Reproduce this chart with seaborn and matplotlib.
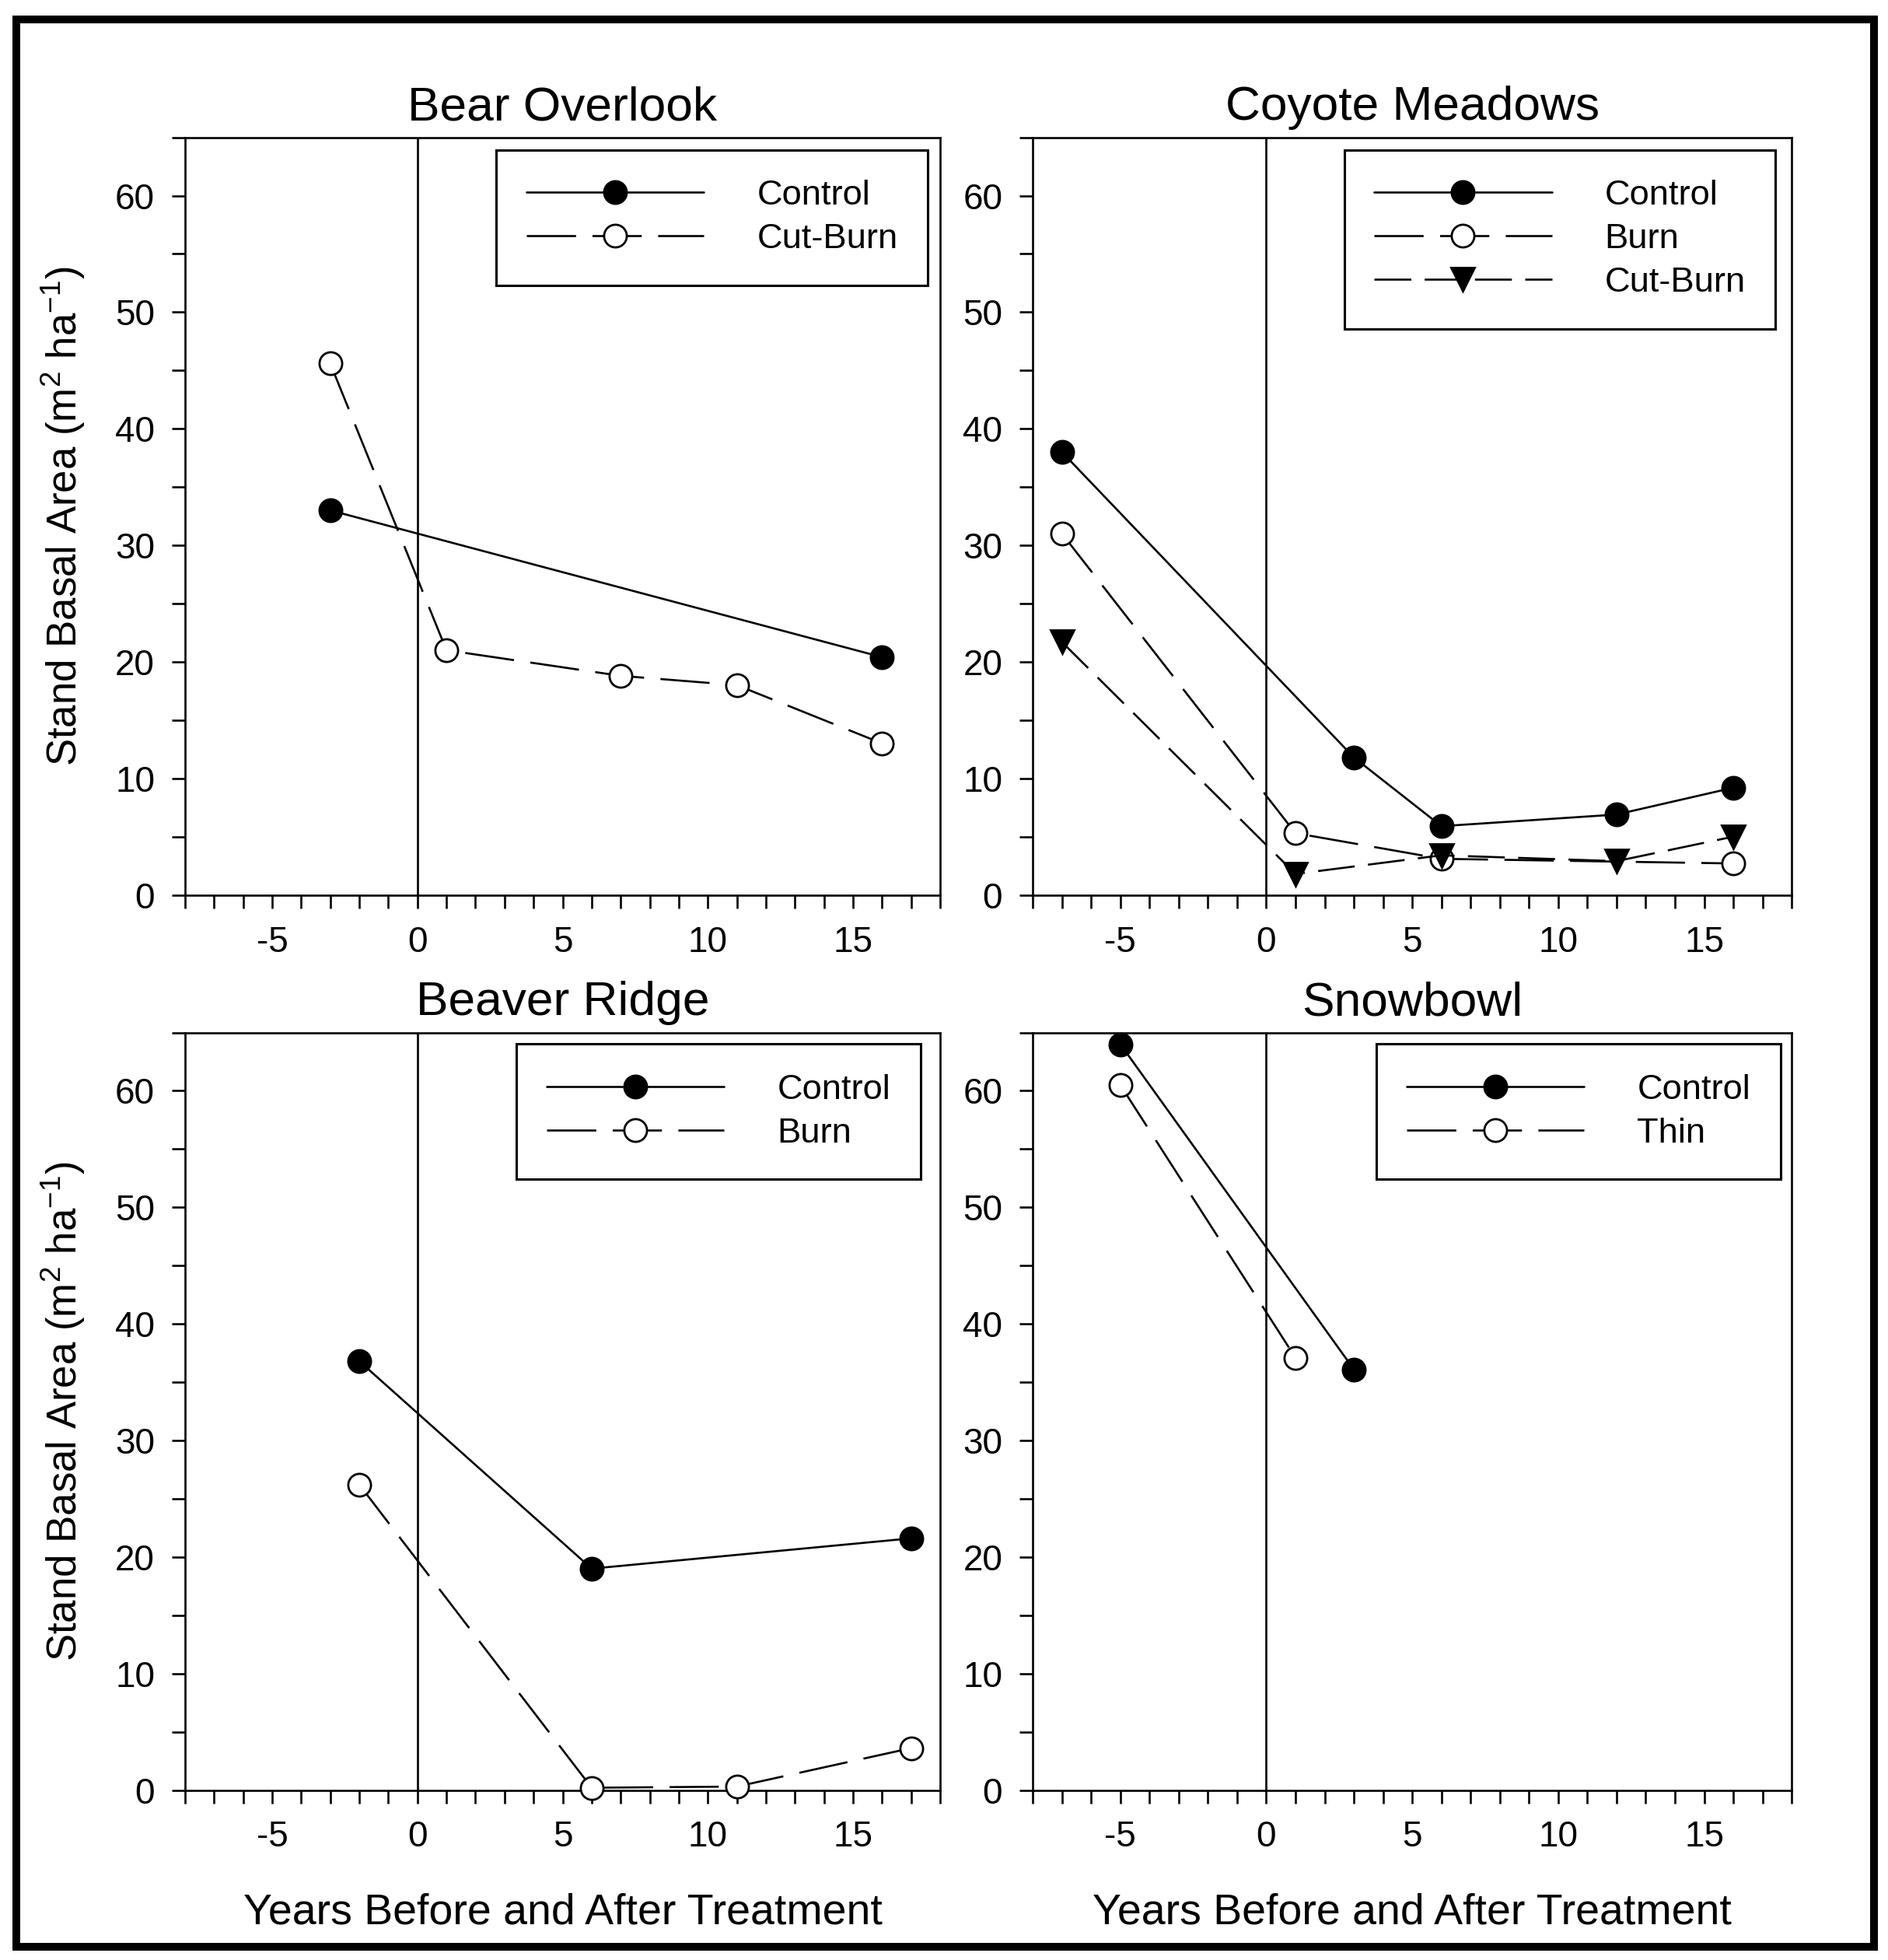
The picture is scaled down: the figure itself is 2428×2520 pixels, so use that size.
import matplotlib.pyplot as plt
import seaborn as sns
from matplotlib.patches import Rectangle
from matplotlib.ticker import MultipleLocator

sns.set_style('ticks')
plt.rcParams['font.family'] = ['Liberation Sans', 'DejaVu Sans']
plt.rcParams['mathtext.fontset'] = 'custom'
plt.rcParams['mathtext.rm'] = 'Liberation Sans'
plt.rcParams['mathtext.default'] = 'regular'
plt.rcParams['axes.unicode_minus'] = False
plt.rcParams['text.color'] = 'black'
plt.rcParams['axes.labelcolor'] = 'black'
plt.rcParams['xtick.color'] = 'black'
plt.rcParams['ytick.color'] = 'black'

# Bear Overlook
bear_control_x = [-3, 16]
bear_control_y = [33.0, 20.4]
bear_cutburn_x = [-3, 1, 7, 11, 16]
bear_cutburn_y = [45.6, 21.0, 18.8, 18.0, 13.0]

# Coyote Meadows
coyote_control_x = [-7, 3, 6, 12, 16]
coyote_control_y = [38.0, 11.8, 5.9, 6.9, 9.2]
coyote_burn_x = [-7, 1, 6, 16]
coyote_burn_y = [31.0, 5.3, 3.1, 2.7]
coyote_cutburn_x = [-7, 1, 6, 12, 16]
coyote_cutburn_y = [21.7, 1.8, 3.4, 2.9, 5.0]

# Beaver Ridge
beaver_control_x = [-2, 6, 17]
beaver_control_y = [36.8, 19.0, 21.6]
beaver_burn_x = [-2, 6, 11, 17]
beaver_burn_y = [26.2, 0.2, 0.3, 3.6]

# Snowbowl
snow_control_x = [-5, 3]
snow_control_y = [64.0, 36.1]
snow_thin_x = [-5, 1]
snow_thin_y = [60.5, 37.1]

ylabel = 'Stand Basal Area (m$^2$ ha$^{-1}$)'
xlabel = 'Years Before and After Treatment'

LW = 0.95
styles = {
    'control': dict(linestyle='-', marker='o', markerfacecolor='black', markersize=10.5),
    'open': dict(linestyle=(0, (24, 8)), marker='o', markerfacecolor='white', markersize=10.5),
    'tri': dict(linestyle=(0, (18, 6.5)), marker='v', markerfacecolor='black', markersize=10.5),
}

panels = [
    ('Bear Overlook', [0.098, 0.5434, 0.400, 0.3865], (0.9835, 0.9835),
     [('Control', bear_control_x, bear_control_y, 'control'),
      ('Cut-Burn', bear_cutburn_x, bear_cutburn_y, 'open')]),
    ('Coyote Meadows', [0.547, 0.5434, 0.402, 0.3865], (0.9787, 0.9835),
     [('Control', coyote_control_x, coyote_control_y, 'control'),
      ('Burn', coyote_burn_x, coyote_burn_y, 'open'),
      ('Cut-Burn', coyote_cutburn_x, coyote_cutburn_y, 'tri')]),
    ('Beaver Ridge', [0.098, 0.0867, 0.400, 0.3865], (0.9736, 0.985),
     [('Control', beaver_control_x, beaver_control_y, 'control'),
      ('Burn', beaver_burn_x, beaver_burn_y, 'open')]),
    ('Snowbowl', [0.547, 0.0867, 0.402, 0.3865], (0.985, 0.985),
     [('Control', snow_control_x, snow_control_y, 'control'),
      ('Thin', snow_thin_x, snow_thin_y, 'open')]),
]

fig = plt.figure(figsize=(12.14, 12.6), dpi=200)

for i, (title, rect, leg_pos, series) in enumerate(panels):
    ax = fig.add_axes(rect)
    ax.axvline(0, color='black', lw=LW, zorder=1)
    for label, xs, ys, key in series:
        sns.lineplot(x=xs, y=ys, ax=ax, color='black', lw=LW,
                     markeredgecolor='black', markeredgewidth=1.0,
                     label=label, sort=False, errorbar=None,
                     clip_on=False, zorder=3, **styles[key])

    ax.set_xlim(-8, 18)
    ax.set_ylim(0, 65)
    ax.xaxis.set_major_locator(MultipleLocator(5))
    ax.xaxis.set_minor_locator(MultipleLocator(1))
    ax.yaxis.set_major_locator(MultipleLocator(10))
    ax.yaxis.set_minor_locator(MultipleLocator(5))
    ax.set_yticks(range(0, 61, 10))
    ax.tick_params(which='both', direction='out', length=6, width=LW,
                   color='black', labelcolor='black', labelsize=16.5, pad=8)
    for s in ax.spines.values():
        s.set_visible(True)
        s.set_linewidth(LW)
        s.set_color('black')

    ax.set_title(title, fontsize=22.4, pad=8, color='black')
    if i % 2 == 0:
        ax.set_ylabel(ylabel, fontsize=19)
        ax.yaxis.set_label_coords(-0.13, 0.5)
    else:
        ax.set_ylabel('')
    if i >= 2:
        ax.set_xlabel(xlabel, fontsize=20)
        ax.xaxis.set_label_coords(0.5, -0.135)
    else:
        ax.set_xlabel('')

    leg = ax.legend(loc='upper right', bbox_to_anchor=leg_pos, borderaxespad=0,
                    handlelength=5.05, handletextpad=1.5, borderpad=0.85,
                    labelspacing=0.33, fontsize=16.3, frameon=True, fancybox=False,
                    edgecolor='black', framealpha=1, numpoints=1)
    leg.get_frame().set_linewidth(1.1)
    for t in leg.get_texts():
        t.set_color('black')

fig.add_artist(Rectangle((0.0086, 0.0067), 0.984, 0.9833, transform=fig.transFigure,
                         fill=False, lw=3.6, edgecolor='black'))

fig.savefig('out.png', dpi=200)
